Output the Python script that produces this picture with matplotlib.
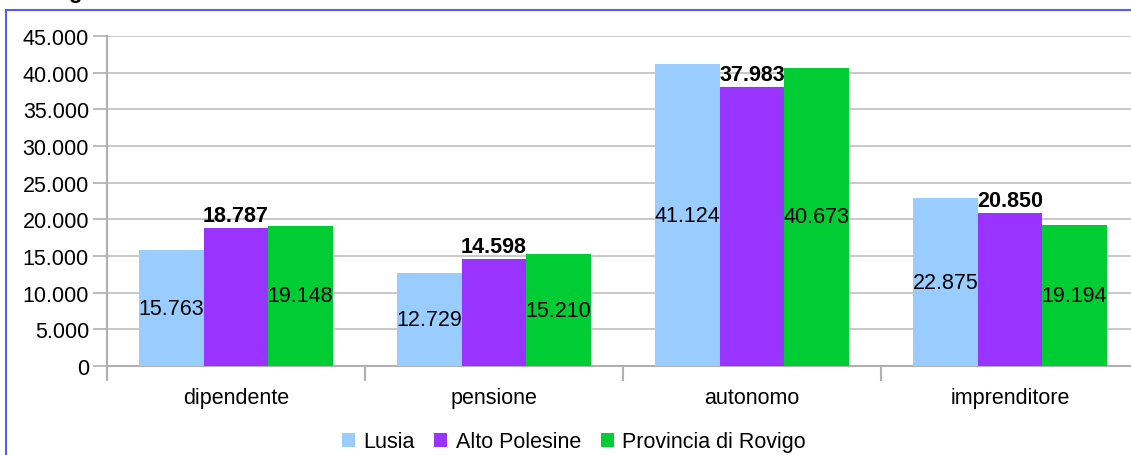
import matplotlib.pyplot as plt
import matplotlib.patches as mpatches
import numpy as np

plt.rcParams['font.family'] = ['Liberation Sans', 'DejaVu Sans']

categorie = ['dipendente', 'pensione', 'autonomo', 'imprenditore']
serie = ['Lusia', 'Alto Polesine', 'Provincia di Rovigo']
lusia = [15763, 12729, 41124, 22875]
alto_polesine = [18787, 14598, 37983, 20850]
provincia = [19148, 15210, 40673, 19194]
colori = ['#99ccff', '#9933ff', '#00cc33']

def fmt(v):
    return f'{v:,.0f}'.replace(',', '.')

fig = plt.figure(figsize=(11.31, 4.56), dpi=100)
ax = fig.add_axes([107/1131, 89/456, 1032/1131, 330/456])

x = np.arange(len(categorie))
w = 0.25
valori = [lusia, alto_polesine, provincia]
for i, (nome, vals, c) in enumerate(zip(serie, valori, colori)):
    bars = ax.bar(x + (i - 1) * w, vals, w, color=c, label=nome, zorder=3)
    for b, v in zip(bars, vals):
        cx = b.get_x() + b.get_width() / 2
        if i == 1:
            ax.text(cx, v + 300, fmt(v), ha='center', va='bottom',
                    fontsize=15.5, fontweight='bold', zorder=4)
        else:
            ax.text(cx, v / 2, fmt(v), ha='center', va='center',
                    fontsize=15.5, zorder=4)

ax.set_xlim(-0.5, 3.5)
ax.set_ylim(0, 45000)
ax.set_yticks(np.arange(0, 45001, 5000))
ax.set_yticklabels([fmt(v) for v in np.arange(0, 45001, 5000)], fontsize=15.5)
ax.yaxis.grid(True, color='#c0c0c0', linewidth=1.2, zorder=0)
ax.tick_params(axis='y', length=10, color='#b0b0b0', width=1.2, pad=3)

ax.set_xticks(x)
ax.set_xticklabels(categorie, fontsize=15.5)
ax.tick_params(axis='x', length=0, pad=15)
ax.set_xticks(np.arange(-0.5, 4, 1), minor=True)
ax.tick_params(axis='x', which='minor', length=11, color='#b0b0b0', width=1.5)

for s in ['top', 'right']:
    ax.spines[s].set_visible(False)
for s in ['left', 'bottom']:
    ax.spines[s].set_color('#b0b0b0')
    ax.spines[s].set_linewidth(1.5)

fig.legend(loc='center', bbox_to_anchor=(574/1131, 1 - 443/456), ncol=3,
           frameon=False, fontsize=15.5, handlelength=0.6, handleheight=0.6,
           handletextpad=0.4, columnspacing=0.9)

fig.patches.append(mpatches.Rectangle((6/1131, -0.1), 1.2, 0.1 + (456 - 11) / 456,
                                      transform=fig.transFigure, fill=False,
                                      edgecolor='#5a5aee', linewidth=1.5))
fig.text(75/1131, 1 + 2/456, 'g', fontsize=16, fontweight='bold',
         ha='center', va='baseline')

fig.savefig('out.png', dpi=100)
